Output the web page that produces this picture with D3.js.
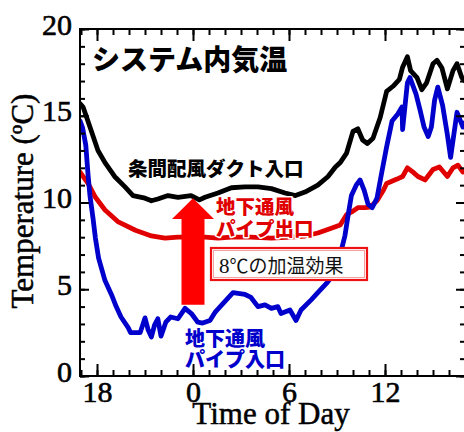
<!DOCTYPE html>
<html>
<head>
<meta charset="utf-8">
<script src="https://cdn.jsdelivr.net/npm/d3@7"></script>
<style>
  html, body { margin: 0; padding: 0; background: #fff; }
  svg { display: block; }
</style>
</head>
<body>
<svg id="chart" width="464" height="432"></svg>
<script>
// Hours are measured from midnight (negative = previous evening); temperatures in °C.

// 条間配風ダクト入口 (duct inlet)
const ductInletHours = [-7.06, -6.87, -6.44, -5.94, -5.5, -4.9, -4.25, -3.75, -3.0, -2.6, -2.2, -1.56, -0.94, -0.12, 0.4, 0.75,
  1.56, 2.4, 3.25, 4.06, 4.9, 5.75, 6.4, 7.0, 7.8, 8.44, 8.9, 9.2, 9.6, 10.0, 10.3, 10.6, 10.9, 11.25, 11.7, 12.1, 12.5,
  12.9, 13.1, 13.4, 13.6, 14.0, 14.3, 14.6, 15.0, 15.25, 15.56, 15.9, 16.25, 16.5, 16.8, 17.0];
const ductInletTemps = [15.7, 15.5, 14.35, 13.0, 12.3, 11.5, 10.9, 10.4, 10.25, 10.1, 10.2, 10.4, 10.3, 10.4, 10.15, 10.3,
  10.55, 10.85, 10.9, 10.9, 10.8, 10.55, 10.4, 10.6, 11.0, 11.5, 12.05, 12.3, 12.85, 14.1, 14.25, 13.6, 13.4, 13.7, 14.9, 16.4, 16.7,
  17.1, 17.8, 18.4, 17.6, 17.2, 16.5, 16.9, 18.0, 18.2, 17.75, 16.55, 17.6, 18.0, 17.2, 17.0];

// 地下通風パイプ出口 (underground pipe outlet)
const pipeOutletHours = [-7.06, -6.56, -6.1, -5.5, -4.7, -3.6, -2.6, -1.75, -0.94, -0.1, 0.75, 1.56, 2.4, 3.6, 4.9, 6.1,
  7.0, 7.8, 8.6, 9.2, 9.6, 10.0, 10.3, 10.75, 11.06, 11.5, 11.9, 12.1, 12.75, 13.1, 13.4, 13.75, 14.06, 14.5, 15.0,
  15.4, 15.9, 16.25, 16.56, 16.87, 17.0];
const pipeOutletTemps = [11.75, 11.1, 10.3, 9.57, 8.9, 8.4, 8.07, 7.95, 8.0, 8.0, 8.0, 7.95, 8.0, 8.0, 7.95, 8.0,
  8.07, 8.24, 8.5, 8.7, 9.3, 9.5, 9.7, 9.7, 9.74, 10.1, 10.7, 11.1, 11.35, 11.5, 12.0, 11.75, 11.5, 11.3, 11.9,
  12.05, 11.5, 12.0, 12.15, 11.75, 11.8];

// 地下通風パイプ入口 (underground pipe inlet)
const pipeInletHours = [-7.06, -6.9, -6.7, -6.56, -6.44, -6.25, -6.1, -5.9, -5.75, -5.5, -5.1, -4.8, -4.5, -4.06, -3.9,
  -3.3, -3.0, -2.8, -2.6, -2.4, -2.2, -2.0, -1.7, -1.4, -0.94, -0.5, -0.1, 0.3, 0.6, 1.06, 1.4, 2.0, 2.5, 3.25, 3.6,
  4.06, 4.5, 4.9, 5.3, 5.5, 6.06, 6.44, 6.75, 7.4, 7.8, 8.4, 8.9, 9.2, 9.5, 9.7, 9.9, 10.2, 10.44, 10.7, 10.94,
  11.2, 11.5, 11.8, 12.1, 12.44, 12.8, 13.06, 13.1, 13.4, 13.56, 13.94, 14.2, 14.44, 14.7, 14.9, 15.1, 15.3, 15.6,
  15.9, 16.1, 16.5, 16.87, 17.0];
const pipeInletTemps = [14.7, 14.3, 13.3, 11.6, 10.4, 9.1, 7.95, 6.8, 6.3, 5.5, 4.7, 4.0, 3.4, 2.8, 2.5,
  2.5, 3.35, 2.65, 2.25, 2.95, 3.3, 2.3, 3.1, 3.4, 3.3, 3.9, 3.6, 3.1, 3.05, 3.2, 3.7, 4.3, 4.8, 4.7, 4.55,
  4.0, 4.1, 3.9, 4.0, 3.6, 3.8, 3.2, 3.8, 4.4, 4.8, 5.4, 6.0, 7.0, 8.1, 9.3, 10.4, 11.0, 11.3, 10.7, 9.9,
  9.7, 10.25, 11.75, 13.2, 14.7, 15.1, 15.5, 14.2, 16.9, 17.2, 16.25, 15.3, 14.35, 13.8, 14.35, 15.9, 16.65, 15.6,
  13.9, 12.6, 15.2, 14.35, 14.6];

const hourTicks = [-6, 0, 6, 12];
const hourTickLabels = ["18", "0", "6", "12"];
const tempTicks = [0, 5, 10, 15, 20];

// heating-effect arrow at midnight: from tail to tip (°C)
const arrowHour = 0;
const arrowTail = 4.1;
const arrowHeadBase = 9.05;
const arrowTip = 10.25;

(function draw() {
  const svg = d3.select("#chart");
  const pL = 80, pR = 465, pT = 29, pB = 376;

  const x = d3.scaleLinear().domain([-7.0625, 17]).range([pL, pR]);
  const y = d3.scaleLinear().domain([0, 20]).range([pB, pT]);

  svg.append("rect").attr("width", 464).attr("height", 432).attr("fill", "#fff");

  const serif = "'Liberation Serif', 'Times New Roman', serif";
  const gothic = "'Noto Sans CJK JP', sans-serif";

  // series lines
  const line = d3.line().x(d => x(d[0])).y(d => y(d[1]));
  const series = [
    { hours: ductInletHours, temps: ductInletTemps, color: "#000000" },
    { hours: pipeOutletHours, temps: pipeOutletTemps, color: "#e00000" },
    { hours: pipeInletHours, temps: pipeInletTemps, color: "#0000cc" }
  ];
  svg.append("clipPath").attr("id", "plot-clip")
    .append("rect").attr("x", pL).attr("y", pT).attr("width", pR - pL).attr("height", pB - pT);
  const lineG = svg.append("g").attr("clip-path", "url(#plot-clip)");
  series.forEach(s => {
    lineG.append("path")
      .datum(s.hours.map((h, i) => [h, s.temps[i]]))
      .attr("d", line)
      .attr("fill", "none")
      .attr("stroke", s.color)
      .attr("stroke-width", 4.8)
      .attr("stroke-linejoin", "round")
      .attr("stroke-linecap", "round");
  });

  // heating arrow
  const ax = x(arrowHour);
  const shaftHalf = 11.5, headHalf = 21;
  svg.append("path")
    .attr("d", [
      [ax - shaftHalf, y(arrowTail)], [ax - shaftHalf, y(arrowHeadBase)], [ax - headHalf, y(arrowHeadBase)],
      [ax, y(arrowTip)], [ax + headHalf, y(arrowHeadBase)], [ax + shaftHalf, y(arrowHeadBase)], [ax + shaftHalf, y(arrowTail)]
    ].map((p, i) => (i ? "L" : "M") + p[0] + "," + p[1]).join("") + "Z")
    .attr("fill", "#ff0000");

  // annotation box
  svg.append("rect").attr("x", 211).attr("y", 248).attr("width", 156).attr("height", 32)
    .attr("fill", "#fff").attr("stroke", "#ee1111").attr("stroke-width", 2.2);
  svg.append("rect").attr("x", 213.5).attr("y", 250.5).attr("width", 151).attr("height", 27)
    .attr("fill", "none").attr("stroke", "#f7a0a0").attr("stroke-width", 1);
  const boxText = svg.append("text").attr("x", 219).attr("y", 273)
    .attr("font-size", 19).attr("fill", "#111");
  boxText.append("tspan").attr("font-family", serif).attr("font-size", 21).text("8");
  boxText.append("tspan").attr("font-family", gothic).text("℃の加温効果");

  // axes
  const minorHours = d3.range(-7, 17);
  const minorTemps = d3.range(0, 21);

  function styleTicks(g) {
    g.select(".domain").remove();
    g.selectAll(".tick line").attr("stroke", "#000").attr("stroke-width", 2);
  }
  function styleLabels(sel) {
    sel.attr("font-family", serif).attr("font-size", 30).attr("fill", "#000")
      .attr("stroke", "#000").attr("stroke-width", 0.6);
  }

  // bottom
  svg.append("g").attr("transform", `translate(0,${pB})`)
    .call(d3.axisBottom(x).tickValues(minorHours).tickSize(-6).tickFormat(""))
    .call(styleTicks);
  const xMajor = svg.append("g").attr("transform", `translate(0,${pB})`)
    .call(d3.axisBottom(x).tickValues(hourTicks).tickSize(-12)
      .tickFormat((d, i) => hourTickLabels[i]))
    .call(styleTicks);
  xMajor.selectAll("text").attr("y", 26).attr("dy", null).call(styleLabels);

  // top (mirror)
  svg.append("g").attr("transform", `translate(0,${pT})`)
    .call(d3.axisTop(x).tickValues(minorHours).tickSize(-6).tickFormat(""))
    .call(styleTicks);
  svg.append("g").attr("transform", `translate(0,${pT})`)
    .call(d3.axisTop(x).tickValues(hourTicks).tickSize(-12).tickFormat(""))
    .call(styleTicks);

  // left
  svg.append("g").attr("transform", `translate(${pL},0)`)
    .call(d3.axisLeft(y).tickValues(minorTemps).tickSize(-5).tickFormat(""))
    .call(styleTicks);
  const yMajor = svg.append("g").attr("transform", `translate(${pL},0)`)
    .call(d3.axisLeft(y).tickValues(tempTicks).tickSize(-9).tickPadding(8).tickFormat(d3.format("d")))
    .call(styleTicks);
  yMajor.selectAll("text").attr("dy", 5).call(styleLabels);

  // right (mirror)
  svg.append("g").attr("transform", `translate(${pR},0)`)
    .call(d3.axisRight(y).tickValues(minorTemps).tickSize(-5).tickFormat(""))
    .call(styleTicks);
  svg.append("g").attr("transform", `translate(${pR},0)`)
    .call(d3.axisRight(y).tickValues(tempTicks).tickSize(-9).tickFormat(""))
    .call(styleTicks);

  // frame
  svg.append("rect").attr("x", pL).attr("y", pT).attr("width", pR - pL).attr("height", pB - pT)
    .attr("fill", "none").attr("stroke", "#000").attr("stroke-width", 2);

  // axis titles
  svg.append("text").attr("x", 271).attr("y", 424).attr("text-anchor", "middle")
    .attr("font-family", serif).attr("font-size", 31).attr("fill", "#000")
    .attr("stroke", "#000").attr("stroke-width", 0.5)
    .text("Time of Day");
  svg.append("text").attr("transform", "translate(33,201) rotate(-90)").attr("text-anchor", "middle")
    .attr("font-family", serif).attr("font-size", 31).attr("fill", "#000")
    .attr("stroke", "#000").attr("stroke-width", 0.5)
    .text("Temperature (ºC)");

  // in-plot labels
  svg.append("text").attr("x", 92).attr("y", 70)
    .attr("font-family", gothic).attr("font-weight", 900).attr("font-size", 28).attr("fill", "#000")
    .text("システム内気温");
  svg.append("text").attr("x", 128).attr("y", 176)
    .attr("font-family", gothic).attr("font-weight", 900).attr("font-size", 19.5).attr("fill", "#000")
    .text("条間配風ダクト入口");

  function haloLabel(lines, x0, y0, dy, color, size) {
    const t = svg.append("text")
      .attr("font-family", gothic).attr("font-weight", 900).attr("font-size", size)
      .attr("fill", color).attr("stroke", "#fff").attr("stroke-width", 3)
      .attr("paint-order", "stroke").attr("stroke-linejoin", "round");
    lines.forEach((s, i) => t.append("tspan").attr("x", x0).attr("y", y0 + i * dy).text(s));
  }
  haloLabel(["地下通風", "パイプ出口"], 216, 214, 22, "#e00000", 19.5);
  haloLabel(["地下通風", "パイプ入口"], 185, 346, 21, "#0000cc", 20);
})();
</script>
</body>
</html>
